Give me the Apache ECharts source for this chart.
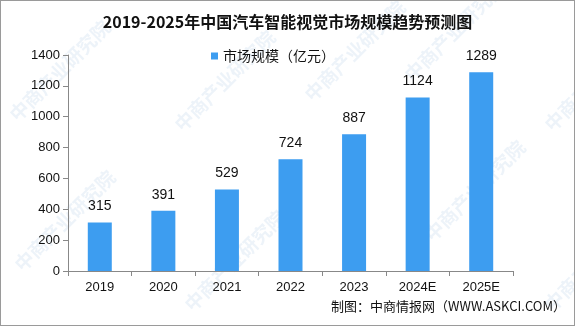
<!DOCTYPE html>
<html>
<head>
<meta charset="utf-8">
<script src="https://cdn.jsdelivr.net/npm/echarts@6/dist/echarts.min.js"></script>
<style>
html,body{margin:0;padding:0;background:#fff;}
#chart{width:575px;height:326px;box-sizing:border-box;border:1px solid #9a9a9a;}
</style>
</head>
<body>
<div id="chart"></div>
<script>
// Market size of China's automotive intelligent vision, 100 million yuan
const years = ['2019', '2020', '2021', '2022', '2023', '2024E', '2025E'];
const marketSize = [315, 391, 529, 724, 887, 1124, 1289];
const yTicks = { min: 0, max: 1400, interval: 200 };

const chart = echarts.init(document.getElementById('chart'), null, { renderer: 'canvas' });

// Faint diagonal watermark text
const marks = [];
const spots = [[5, 110], [10, 260], [170, 120], [180, 300], [300, 90], [400, 70], [420, 230], [540, 120], [540, 300]];
spots.forEach(p => {
  marks.push({
    type: 'text', x: p[0], y: p[1], rotation: Math.PI / 4, silent: true, z: -1,
    style: { text: '中商产业研究院', fill: 'rgba(190,212,235,0.28)', font: 'bold 19px "Noto Sans CJK SC"' }
  });
});

chart.setOption({
  animation: false,
  title: {
    text: '2019-2025年中国汽车智能视觉市场规模趋势预测图',
    left: 'center', top: 8,
    textStyle: { fontFamily: 'Noto Sans CJK SC', fontWeight: 'bold', fontSize: 16, color: '#111' }
  },
  legend: {
    data: ['市场规模（亿元）'], top: 43, left: 205,
    itemWidth: 7, itemHeight: 7, itemGap: 4, icon: 'rect',
    textStyle: { fontFamily: 'Noto Sans CJK SC', fontSize: 14, color: '#111' }
  },
  graphic: marks.concat([{
    type: 'text', right: 8, top: 299,
    style: { text: '制图：中商情报网（WWW.ASKCI.COM）', fill: '#111', font: '13px "Noto Sans CJK SC"' }
  }]),
  grid: { left: 67, right: 61, top: 54, bottom: 54, containLabel: false },
  xAxis: {
    type: 'category', data: years,
    axisLine: { lineStyle: { color: '#888' } },
    axisTick: { show: true, alignWithLabel: false, length: 5, lineStyle: { color: '#888' } },
    axisLabel: { color: '#111', fontFamily: 'Liberation Sans', fontSize: 13, margin: 10 }
  },
  yAxis: {
    type: 'value', min: yTicks.min, max: yTicks.max, interval: yTicks.interval,
    axisLine: { show: true, lineStyle: { color: '#888' } },
    axisTick: { show: true, length: 5, lineStyle: { color: '#888' } },
    splitLine: { show: false },
    axisLabel: { color: '#111', fontFamily: 'Liberation Sans', fontSize: 13, margin: 8, formatter: v => String(v) }
  },
  series: [{
    name: '市场规模（亿元）', type: 'bar', data: marketSize, barWidth: 24,
    itemStyle: { color: '#3d9df0' },
    label: { show: true, position: 'top', distance: 9, color: '#111', fontFamily: 'Liberation Sans', fontSize: 14 }
  }]
});
</script>
</body>
</html>
